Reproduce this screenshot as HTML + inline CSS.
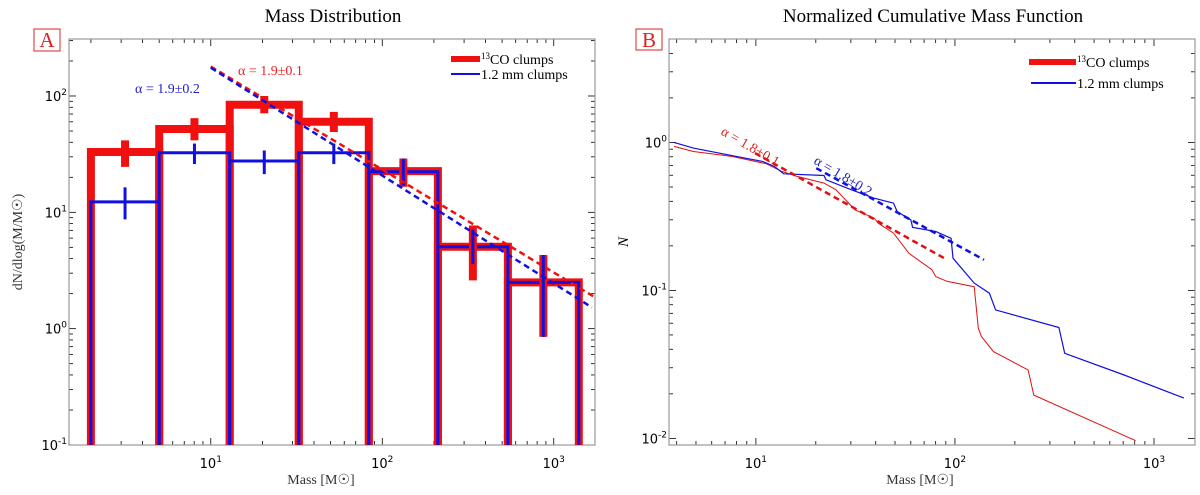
<!DOCTYPE html>
<html><head><meta charset="utf-8"><style>
body{margin:0;background:#fff;}
svg{display:block;font-family:"Liberation Serif",serif;}
.tk{font-family:"DejaVu Sans",sans-serif;font-size:13px;}
</style></head><body>
<svg id="c" width="1200" height="495"></svg>
<script>
// ---- Panel A data ----
const binEdges=[2,5,12.9,32.6,83.5,211,540,1400];
const coCounts=[33,52,84,60,22.6,5.06,2.5];
const coErrLo=[24.6,41.6,71,49,16.6,2.6,0.85];
const coErrHi=[41.5,64.5,100,73,29,7.7,4.3];
const mmCounts=[12.3,32.5,27.6,32.5,22.3,5.06,2.5];
const mmErrLo=[8.7,26,21.3,26,17,3.6,0.85];
const mmErrHi=[16.4,39,34,39,29,7.1,4.3];
const fitA_co=[10,179,1740,2.0];   // Mstart, N at Mstart, Mend, (unused)
const fitA_mm=[10,175,1670];
const slopeA=[-0.885,-0.927];
const xTicksA=["10","10","10"], xExpA=["1","2","3"];
const yTicksA=["10","10","10","10"], yExpA=["-1","0","1","2"];
// ---- Panel B data ----
const mmMass=[3.88,4.85,7.24,10.8,12.4,13.8,22.0,22.5,30.1,39.3,49.1,51.3,60.0,61.3,80.0,95.7,97.8,125,149,160,333,356,708,1413];
const mmCum=[1.00,0.916,0.825,0.744,0.688,0.614,0.598,0.559,0.479,0.420,0.389,0.341,0.300,0.267,0.250,0.225,0.165,0.112,0.0957,0.0738,0.0561,0.0376,0.0268,0.0187];
const coMass=[3.88,4.85,7.57,11.3,13.5,16.1,22.0,25.2,31.5,39.3,41.1,49.1,58.7,76.6,80.0,91.5,125,131,136,156,233,249,809];
const coCum=[0.940,0.869,0.804,0.717,0.637,0.589,0.531,0.479,0.350,0.308,0.285,0.244,0.178,0.138,0.124,0.115,0.106,0.0555,0.0487,0.0386,0.0290,0.0196,0.00964];
const fitB_co=[9.9,0.847,91.5,0.161];
const fitB_mm=[20.1,0.670,140,0.161];

const NS="http://www.w3.org/2000/svg";
const svg=document.getElementById('c');
function el(tag,at,parent,txt){const e=document.createElementNS(NS,tag);for(const k in at)e.setAttribute(k,at[k]);if(txt!==undefined)e.textContent=txt;(parent||svg).appendChild(e);return e;}
function logScale(d0,d1,r0,r1){const a=Math.log10(d0),b=Math.log10(d1);return v=>r0+(Math.log10(v)-a)/(b-a)*(r1-r0);}

function axesBox(L,R,T,B,xs,ys,xd,yd,name){
  const g=el('g',{});  
  for(let e=xd[0];e<=xd[1];e++)for(let m=1;m<10;m++){const v=m*Math.pow(10,e);const x=xs(v);if(x<L-0.1||x>R+0.1)continue;const len=m==1?7:4;
    el('line',{x1:x,x2:x,y1:B,y2:B-len,stroke:'#000','stroke-width':0.8},g);el('line',{x1:x,x2:x,y1:T,y2:T+len,stroke:'#000','stroke-width':0.8},g);}
  for(let e=yd[0];e<=yd[1];e++)for(let m=1;m<10;m++){const v=m*Math.pow(10,e);const y=ys(v);if(y<T-0.1||y>B+0.1)continue;const len=m==1?7:4;
    el('line',{x1:L,x2:L+len,y1:y,y2:y,stroke:'#000','stroke-width':0.8},g);el('line',{x1:R,x2:R-len,y1:y,y2:y,stroke:'#000','stroke-width':0.8},g);}
  el('rect',{x:L,y:T,width:R-L,height:B-T,fill:'none',stroke:'#999','stroke-width':1.2},g);
  return g;
}
function tickLabel(x,y,base,exp,anchor,name){
  const t=el('text',{x:x,y:y,'text-anchor':anchor,class:'tk'});
  el('tspan',{},t,base);el('tspan',{dy:-6,'font-size':9},t,exp);
}
function path(pts,at,name){const p=el('path',Object.assign({d:'M'+pts.map(p=>p[0].toFixed(1)+','+p[1].toFixed(1)).join('L'),fill:'none'},at));return p;}

// ===== Panel A =====
const AL=69,AR=595,AT=39,AB=445;
const xA=logScale(1.49,1740,AL,AR), yA=logScale(0.1,309,AB,AT);
axesBox(AL,AR,AT,AB,xA,yA,[0,3],[-1,2],'panel-a');
function histPts(c){const pts=[[xA(binEdges[0]),AB+3]];for(let i=0;i<c.length;i++){pts.push([xA(binEdges[i]),yA(c[i])]);pts.push([xA(binEdges[i+1]),yA(c[i])]);}pts.push([xA(binEdges[c.length]),AB+3]);
  // inner vertical edges go down to axis
  return pts;}
function histBars(c,col,w,name){
  for(let i=0;i<c.length;i++){const x0=xA(binEdges[i]),x1=xA(binEdges[i+1]),y=yA(c[i]);
    const p=path([[x0,AB],[x0,y],[x1,y],[x1,AB]],{stroke:col,'stroke-width':w,'stroke-linejoin':'miter'},name+'-bin-'+(i+1));}
}
const clipA=el('clipPath',{id:'ca'});el('rect',{x:AL,y:AT,width:AR-AL,height:AB-AT},clipA);
histBars(coCounts,'#f01010',8,'co-hist');
histBars(mmCounts,'#1010e0',3,'mm-hist');
function errs(c,lo,hi,col,w,cap,name){for(let i=0;i<c.length;i++){const xc=xA(Math.sqrt(binEdges[i]*binEdges[i+1]));
  const l=el('line',{x1:xc,x2:xc,y1:yA(lo[i]),y2:yA(hi[i]),stroke:col,'stroke-width':w});}}
errs(coCounts,coErrLo,coErrHi,'#f01010',8,0,'co');
errs(mmCounts,mmErrLo,mmErrHi,'#1010e0',3,0,'mm');
function fitLine(xs,ys,m0,n0,m1,slope,col,name,clip){const pts=[];const a=Math.log10(m0),b=Math.log10(m1);for(let k=0;k<=20;k++){const lm=a+(b-a)*k/20;pts.push([xs(Math.pow(10,lm)),ys(n0*Math.pow(10,slope*(lm-a)))]);}
  const p=path(pts,{stroke:col,'stroke-width':2.5,'stroke-dasharray':'6,4'},name);}
fitLine(xA,yA,fitA_co[0],fitA_co[1],fitA_co[2],slopeA[0],'#f01010','co-fit-line');
fitLine(xA,yA,fitA_mm[0],fitA_mm[1],fitA_mm[2],slopeA[1],'#1010e0','mm-fit-line');
let t;
t=el('text',{x:238,y:75,fill:'#f02020','font-size':14},svg,'α = 1.9±0.1');
t=el('text',{x:135,y:93,fill:'#2020d0','font-size':14},svg,'α = 1.9±0.2');
// ticks A
xTicksA.forEach((b,i)=>tickLabel(xA(Math.pow(10,i+1)),468,b,xExpA[i],'middle','x-tick-a-'+i));
yTicksA.forEach((b,i)=>tickLabel(AL-2,yA(Math.pow(10,i-1))+5,b,yExpA[i],'end','y-tick-a-'+i));
t=el('text',{x:333,y:22,'text-anchor':'middle','font-size':19},svg,'Mass Distribution');
t=el('text',{x:321,y:484,'text-anchor':'middle','font-size':14,fill:'#333'},svg,'Mass [M☉]');
t=el('text',{x:0,y:0,'text-anchor':'middle','font-size':14,fill:'#333',transform:'translate(22,242) rotate(-90)'},svg,'dN/dlog(M/M☉)');
el('rect',{x:34,y:29,width:26,height:22,fill:'#fff',stroke:'#e02020','stroke-width':1});
t=el('text',{x:47,y:47,'text-anchor':'middle','font-size':21,fill:'#e02020'},svg,'A');
// legend A
el('line',{x1:451,x2:480,y1:59,y2:59,stroke:'#f01010','stroke-width':6});
el('line',{x1:451,x2:480,y1:74,y2:74,stroke:'#1010e0','stroke-width':2});
t=el('text',{x:481,y:64,'font-size':14},svg);el('tspan',{dy:-5,'font-size':9},t,'13');el('tspan',{dy:5},t,'CO clumps');
t=el('text',{x:481,y:79,'font-size':14},svg,'1.2 mm clumps');

// ===== Panel B =====
const BL=669,BR=1195,BT=39,BB=445;
const xB=logScale(3.66,1607,BL,BR), yB=logScale(0.00902,5.0,BB,BT);
axesBox(BL,BR,BT,BB,xB,yB,[0,3],[-3,0],'panel-b');
path(coMass.map((m,i)=>[xB(m),yB(coCum[i])]),{stroke:'#e01010','stroke-width':1},'co-cumulative-line');
path(mmMass.map((m,i)=>[xB(m),yB(mmCum[i])]),{stroke:'#1010e0','stroke-width':1.2},'mm-cumulative-line');
function fitB(f,col,name){const s=Math.log10(f[3]/f[1])/Math.log10(f[2]/f[0]);fitLine(xB,yB,f[0],f[1],f[2],s,col,name);}
fitB(fitB_co,'#e01010','co-fit-line-b');
fitB(fitB_mm,'#1010e0','mm-fit-line-b');
t=el('text',{x:0,y:0,fill:'#e02020','font-size':14,transform:'translate(720,134) rotate(30)'},svg,'α = 1.8±0.1');
t=el('text',{x:0,y:0,fill:'#2020d0','font-size':14,transform:'translate(813,163) rotate(31)'},svg,'α = 1.8±0.2');
[1,2,3].forEach((e,i)=>tickLabel(xB(Math.pow(10,e)),468,'10',String(e),'middle','x-tick-b-'+i));
tickLabel(BL-2,yB(1)+5,'10','0','end','y-tick-b-0');
tickLabel(BL-2,yB(0.1)+5,'10','-1','end','y-tick-b-1');
tickLabel(BL-2,yB(0.01)+5,'10','-2','end','y-tick-b-2');
t=el('text',{x:933,y:22,'text-anchor':'middle','font-size':19},svg,'Normalized Cumulative Mass Function');
t=el('text',{x:920,y:484,'text-anchor':'middle','font-size':14,fill:'#333'},svg,'Mass [M☉]');
t=el('text',{x:0,y:0,'text-anchor':'middle','font-size':15,'font-style':'italic',transform:'translate(628,242) rotate(-90)'},svg,'N');
el('rect',{x:636,y:29,width:26,height:21,fill:'#fff',stroke:'#e02020','stroke-width':1});
t=el('text',{x:649,y:47,'text-anchor':'middle','font-size':21,fill:'#e02020'},svg,'B');
el('line',{x1:1029,x2:1076,y1:62,y2:62,stroke:'#f01010','stroke-width':6});
el('line',{x1:1031,x2:1076,y1:83,y2:83,stroke:'#1010e0','stroke-width':2});
t=el('text',{x:1077,y:67,'font-size':14},svg);el('tspan',{dy:-5,'font-size':9},t,'13');el('tspan',{dy:5},t,'CO clumps');
t=el('text',{x:1077,y:88,'font-size':14},svg,'1.2 mm clumps');
</script>
</body></html>
